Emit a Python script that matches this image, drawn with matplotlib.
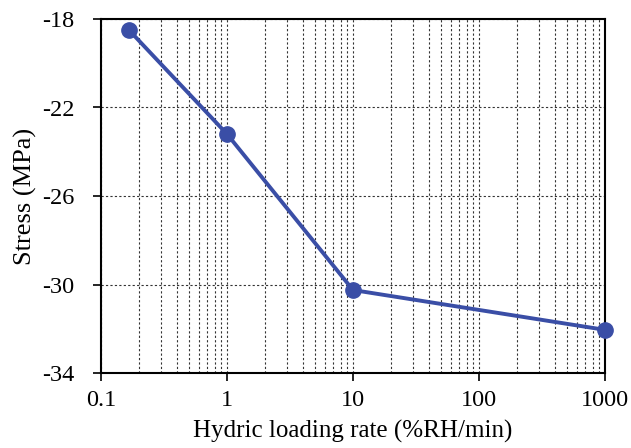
import numpy as np
import matplotlib
matplotlib.use("Agg")
from matplotlib import pyplot as plt
from matplotlib.ticker import LogLocator, NullFormatter

rate = [1/6, 1, 10, 1000]
stress = [-18.5, -23.2, -30.25, -32.05]
xticks = [0.1, 1, 10, 100, 1000]
xtick_labels = ['0.1', '1', '10', '100', '1000']
yticks = [-34, -30, -26, -22, -18]
ytick_labels = ['-34', '-30', '-26', '-22', '-18']

plt.rcParams['font.family'] = ['Liberation Serif', 'DejaVu Serif']
plt.rcParams['axes.unicode_minus'] = False

fig = plt.figure(figsize=(6.31, 4.48), dpi=100)
ax = fig.add_axes([101/631, 1 - 373/448, 504/631, 354/448])

ax.plot(rate, stress, color='#3a4ea6', linewidth=2.8, marker='o', markersize=11,
        zorder=3, clip_on=False)

ax.set_xscale('log')
ax.set_xlim(0.1, 1000)
ax.set_ylim(-34, -18)
ax.set_xticks(xticks)
ax.set_xticklabels(xtick_labels)
ax.xaxis.set_minor_locator(LogLocator(base=10, subs=np.arange(2, 10)))
ax.xaxis.set_minor_formatter(NullFormatter())
ax.set_yticks(yticks)
ax.set_yticklabels(ytick_labels)

ax.grid(True, which='both', axis='x', color='#333333', linestyle=(0, (2, 2)), linewidth=0.8)
ax.grid(True, which='major', axis='y', color='#333333', linestyle=(0, (2, 2)), linewidth=0.8)

ax.tick_params(axis='both', which='major', direction='out', length=6, width=1.2,
               colors='black', labelsize=17.5)
ax.tick_params(axis='x', which='major', pad=6)
ax.tick_params(axis='y', which='major', pad=13)
ax.tick_params(axis='x', which='minor', length=0)
for s in ax.spines.values():
    s.set_linewidth(1.5)

ax.set_xlabel('Hydric loading rate (%RH/min)', fontsize=18, labelpad=7)
ax.set_ylabel('Stress (MPa)', fontsize=19, labelpad=4)

fig.savefig('out.png', dpi=100)
